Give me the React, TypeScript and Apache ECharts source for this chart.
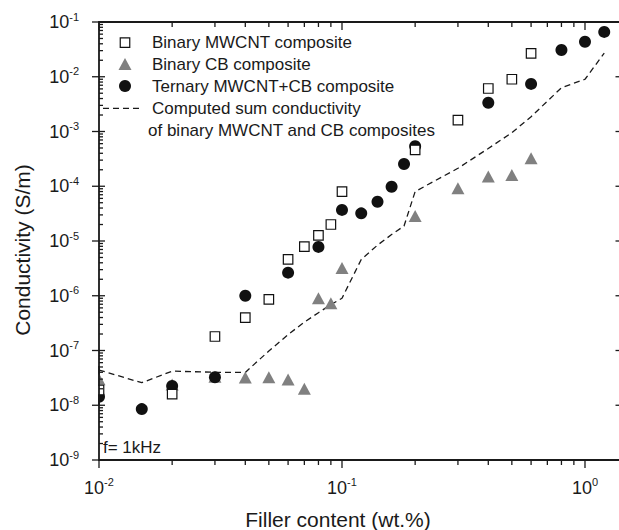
import React, { useEffect, useRef } from 'react';
import * as echarts from 'echarts';

// ---- data ----
const mwcntX = [0.01, 0.02, 0.03, 0.04, 0.05, 0.06, 0.07, 0.08, 0.09, 0.1, 0.2, 0.3, 0.4, 0.5, 0.6];
const mwcntY = [1.9e-8, 1.6e-8, 1.8e-7, 4.0e-7, 8.6e-7, 4.6e-6, 7.9e-6, 1.27e-5, 2.0e-5, 8.0e-5, 4.6e-4, 1.62e-3, 6.1e-3, 9.0e-3, 2.68e-2];

const cbX = [0.01, 0.02, 0.03, 0.04, 0.05, 0.06, 0.07, 0.08, 0.09, 0.1, 0.2, 0.3, 0.4, 0.5, 0.6];
const cbY = [3.0e-8, 2.4e-8, 3.3e-8, 3.2e-8, 3.25e-8, 2.95e-8, 2.0e-8, 9.0e-7, 7.3e-7, 3.2e-6, 2.86e-5, 9.2e-5, 1.5e-4, 1.6e-4, 3.24e-4];

const ternX = [0.01, 0.015, 0.02, 0.03, 0.04, 0.06, 0.08, 0.1, 0.12, 0.14, 0.16, 0.18, 0.2, 0.4, 0.6, 0.8, 1.0, 1.2];
const ternY = [1.43e-8, 8.5e-9, 2.25e-8, 3.24e-8, 1.0e-6, 2.64e-6, 7.8e-6, 3.7e-5, 3.2e-5, 5.2e-5, 9.8e-5, 2.55e-4, 5.4e-4, 3.36e-3, 7.4e-3, 3.08e-2, 4.37e-2, 6.6e-2];

const sumX = [0.01, 0.015, 0.02, 0.03, 0.04, 0.05, 0.06, 0.07, 0.08, 0.09, 0.1, 0.12, 0.14, 0.16, 0.18, 0.2, 0.3, 0.4, 0.5, 0.6, 0.8, 1.0, 1.2];
const sumY = [4.4e-8, 2.58e-8, 4.2e-8, 4.0e-8, 3.98e-8, 9.8e-8, 1.95e-7, 3.3e-7, 4.9e-7, 6.9e-7, 9.0e-7, 4.6e-6, 8.4e-6, 1.31e-5, 1.88e-5, 8.0e-5, 2.13e-4, 4.9e-4, 9.5e-4, 1.86e-3, 6.3e-3, 9.0e-3, 2.7e-2];

// ---- axis ticks ----
const xMajorTicks = [0.01, 0.1, 1];
const xMinorTicks = [0.02, 0.03, 0.04, 0.05, 0.06, 0.07, 0.08, 0.09, 0.2, 0.3, 0.4, 0.5, 0.6, 0.7, 0.8, 0.9];
const yMajorTicks = [1e-9, 1e-8, 1e-7, 1e-6, 1e-5, 1e-4, 1e-3, 1e-2, 1e-1];
const yMinorMultipliers = [2, 3, 4, 5, 6, 7, 8, 9];
const yMinorTicks: number[] = [];
for (let i = 0; i < yMajorTicks.length - 1; i++) {
  for (const m of yMinorMultipliers) yMinorTicks.push(m * yMajorTicks[i]);
}

// ---- texts ----
const legendNames = [
  'Binary MWCNT composite',
  'Binary CB composite',
  'Ternary MWCNT+CB composite',
  'Computed sum conductivity',
];
const legendExtraLine = 'of binary MWCNT and CB composites';
const xTitle = 'Filler content (wt.%)';
const yTitle = 'Conductivity (S/m)';
const noteText = 'f= 1kHz';

const FONT = '"Liberation Sans", Arial, Helvetica, sans-serif';
const INK = '#1a1a1a';
const GRAY = '#808080';

const pairs = (xs: number[], ys: number[]) => xs.map((x, i) => [x, ys[i]]);

function expLabel(v: number) {
  const e = Math.log10(v);
  const r = Math.round(e);
  if (Math.abs(e - r) > 1e-6) return '';
  return `{b|10}{s|${r}}`;
}

const labelRich = {
  b: { fontSize: 18, lineHeight: 22, fontFamily: FONT, color: INK },
  s: { fontSize: 11, lineHeight: 10, fontFamily: FONT, color: INK, verticalAlign: 'top' },
};

const tickData = [
  ...xMajorTicks.map((v) => [v, 1e-5, 1, 0]),
  ...xMinorTicks.map((v) => [v, 1e-5, 0, 0]),
  ...yMajorTicks.map((v) => [0.1, v, 1, 1]),
  ...yMinorTicks.map((v) => [0.1, v, 0, 1]),
];

function renderTick(params: any, api: any) {
  const cs = params.coordSys;
  const left = cs.x;
  const top = cs.y;
  const right = cs.x + cs.width;
  const bottom = cs.y + cs.height;
  const major = api.value(2) === 1;
  const isY = api.value(3) === 1;
  const p = api.coord([api.value(0), api.value(1)]);
  const style = { stroke: INK, lineWidth: 1.3 };
  const children: any[] = [];
  if (!isY) {
    const len = major ? 8 : 5;
    children.push({ type: 'line', shape: { x1: p[0], y1: bottom, x2: p[0], y2: bottom + len }, style });
    children.push({ type: 'line', shape: { x1: p[0], y1: top, x2: p[0], y2: top + len }, style });
  } else if (major) {
    children.push({ type: 'line', shape: { x1: left - 7, y1: p[1], x2: left + 6, y2: p[1] }, style });
    children.push({ type: 'line', shape: { x1: right - 5, y1: p[1], x2: right, y2: p[1] }, style });
  } else {
    children.push({ type: 'line', shape: { x1: left, y1: p[1], x2: left + 4, y2: p[1] }, style });
  }
  return { type: 'group', children };
}

const GRID_LEFT = 99;
const legendX = 125;
const legendTextX = 152;
const legendYs = [42.7, 64, 86, 108.3];

function buildGraphic() {
  const t = (text: string, x: number, y: number, size: number, extra: any = {}) => ({
    type: 'text',
    x,
    y,
    z: 10,
    ...extra,
    style: { text, fontSize: size, fontFamily: FONT, fill: INK, align: 'left', verticalAlign: 'middle', ...(extra.style || {}) },
  });
  const els: any[] = [
    // white mask so that the marks sitting on x = 0.01 are cut at the left axis, as in the reference
    {
      type: 'rect',
      z: 5.5,
      shape: { x: 84, y: 368, width: GRID_LEFT - 84 - 0.9, height: 35 },
      style: { fill: '#fff' },
      silent: true,
    },
    {
      type: 'line',
      z: 5.6,
      shape: { x1: GRID_LEFT, y1: 366, x2: GRID_LEFT, y2: 405 },
      style: { stroke: INK, lineWidth: 1.8 },
      silent: true,
    },
    {
      type: 'rect',
      z: 10,
      shape: { x: legendX - 4.75, y: legendYs[0] - 4.75, width: 9.5, height: 9.5 },
      style: { fill: '#fff', stroke: '#111', lineWidth: 1.2 },
    },
    {
      type: 'polygon',
      z: 10,
      shape: { points: [[legendX - 6.5, legendYs[1] + 6], [legendX + 6.5, legendYs[1] + 6], [legendX, legendYs[1] - 6]] },
      style: { fill: GRAY },
    },
    { type: 'circle', z: 10, shape: { cx: legendX, cy: legendYs[2], r: 6 }, style: { fill: '#111' } },
    {
      type: 'line',
      z: 10,
      shape: { x1: 103, y1: legendYs[3], x2: 143, y2: legendYs[3] },
      style: { stroke: INK, lineWidth: 1.3, lineDash: [6, 4] },
    },
  ];
  legendNames.forEach((n, i) => els.push(t(n, legendTextX, legendYs[i], 17)));
  els.push(t(legendExtraLine, 148, 130, 17));
  els.push(t(noteText, 103, 447, 17));
  els.push(t(xTitle, 338, 519, 21, { style: { align: 'center' } }));
  els.push(t(yTitle, 22.5, 250, 21, { rotation: Math.PI / 2, style: { align: 'center' } }));
  return els;
}

const option: any = {
  animation: false,
  backgroundColor: '#fff',
  textStyle: { fontFamily: FONT },
  grid: {
    left: GRID_LEFT,
    top: 22,
    width: 521.5,
    height: 438,
    show: true,
    borderColor: INK,
    borderWidth: 1.8,
    backgroundColor: 'transparent',
    outerBoundsMode: 'none',
    containLabel: false,
  },
  xAxis: {
    type: 'log',
    logBase: 10,
    min: 0.01,
    max: 1.4,
    axisLine: { show: false },
    axisTick: { show: false },
    minorTick: { show: false },
    splitLine: { show: false },
    axisLabel: { margin: 16.5, formatter: expLabel, rich: labelRich, showMaxLabel: false, hideOverlap: false },
  },
  yAxis: {
    type: 'log',
    logBase: 10,
    min: 1e-9,
    max: 0.1,
    axisLine: { show: false },
    axisTick: { show: false },
    minorTick: { show: false },
    splitLine: { show: false },
    axisLabel: { margin: 20, formatter: expLabel, rich: labelRich, hideOverlap: false },
  },
  graphic: buildGraphic(),
  series: [
    {
      type: 'line',
      name: 'Computed sum conductivity of binary MWCNT and CB composites',
      data: pairs(sumX, sumY),
      symbol: 'none',
      showSymbol: false,
      lineStyle: { color: INK, width: 1.3, type: [6, 4] },
      z: 2,
      silent: true,
    },
    {
      type: 'scatter',
      name: legendNames[1],
      data: pairs(cbX, cbY),
      symbol: 'triangle',
      symbolSize: [13, 12],
      itemStyle: { color: GRAY, opacity: 1 },
      z: 3,
    },
    {
      type: 'scatter',
      name: legendNames[2],
      data: pairs(ternX, ternY),
      symbol: 'circle',
      symbolSize: 12,
      itemStyle: { color: '#111', opacity: 1 },
      z: 4,
    },
    {
      type: 'scatter',
      name: legendNames[0],
      data: pairs(mwcntX, mwcntY),
      symbol: 'rect',
      symbolSize: 9.5,
      itemStyle: { color: '#fff', borderColor: '#111', borderWidth: 1.2, opacity: 1 },
      z: 5,
    },
    {
      type: 'custom',
      name: 'ticks',
      dimensions: ['x', 'y', 'major', 'axis'],
      encode: { x: 0, y: 1 },
      data: tickData,
      renderItem: renderTick,
      clip: false,
      silent: true,
      z: 6,
    },
  ],
};

export default function App() {
  const ref = useRef<HTMLDivElement>(null);
  useEffect(() => {
    if (!ref.current) return;
    const chart = echarts.init(ref.current, null, { renderer: 'svg' });
    chart.setOption(option);
    return () => chart.dispose();
  }, []);
  return (
    <div
      ref={ref}
      style={{ position: 'absolute', left: 0, top: 0, width: 619, height: 530, background: '#fff' }}
    />
  );
}
